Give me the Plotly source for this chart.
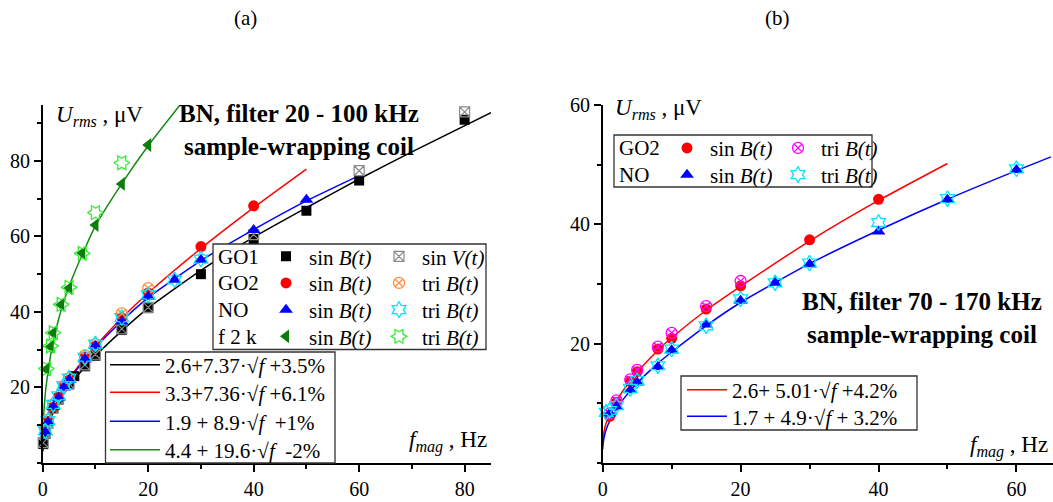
import plotly.graph_objects as go

W, H = 1053, 502
SERIF = "Liberation Serif, Times New Roman, Times, serif"

# ---------------- panel (a): BN, filter 20 - 100 kHz ----------------
# GO1, sinusoidal B(t) and sinusoidal V(t)
f_go1_sin = [0.1, 0.5, 1, 2, 3, 5, 6, 8, 10, 15, 20, 30, 40, 50, 60, 80]
u_go1_sin = [5.0, 7.7, 10.5, 14.5, 16.8, 20.8, 23.0, 25.6, 28.4, 35.2, 41.0, 50.0, 59.3, 66.8, 74.8, 90.9]
f_go1_sinv = [0.1, 0.5, 1, 2, 3, 5, 8, 10, 15, 20, 40, 60, 80]
u_go1_sinv = [5.4, 8.0, 10.5, 14.5, 17.0, 21.0, 26.0, 28.8, 35.5, 41.2, 60.5, 77.4, 93.0]
# GO2, sinusoidal and triangular B(t)
f_go2a_sin = [0.5, 1, 2, 3, 4, 5, 8, 10, 15, 20, 30, 40]
u_go2a_sin = [9.0, 11.0, 14.8, 17.5, 20.5, 22.0, 28.0, 31.0, 38.5, 45.0, 57.3, 68.1]
f_go2a_tri = [0.5, 1, 2, 4, 5, 8, 10, 15, 20]
u_go2a_tri = [9.5, 11.5, 15.5, 20.5, 22.5, 28.5, 31.5, 39.6, 46.3]
# NO, sinusoidal and triangular B(t)
f_noa_sin = [0.5, 1, 2, 3, 4, 5, 8, 10, 15, 20, 25, 30, 40, 50]
u_noa_sin = [8.2, 10.8, 14.8, 17.2, 20.0, 22.0, 27.5, 31.0, 37.5, 44.0, 48.5, 53.8, 61.7, 69.7]
f_noa_tri = [0.5, 1, 2, 3, 4, 5, 8, 10, 15, 20, 25, 30]
u_noa_tri = [8.5, 11.2, 15.5, 17.8, 20.5, 22.5, 28.0, 31.5, 38.5, 44.5, 48.5, 54.0]
# f 2 k, sinusoidal and triangular B(t)
f_f2k_sin = [0.7, 1.5, 2, 3.5, 5, 7.5, 10, 15, 20]
u_f2k_sin = [24.8, 30.8, 34.4, 41.9, 46.3, 55.6, 63.0, 73.9, 84.2]
f_f2k_tri = [0.7, 1.5, 2, 3.5, 5, 7.5, 10, 15]
u_f2k_tri = [25.0, 31.0, 34.5, 42.0, 46.5, 55.5, 66.3, 79.5]

# fitted curves, panel (a)
f_fit_go1 = [0, 0.1, 0.25, 0.5, 1, 2, 3, 5, 8, 10, 15, 20, 30, 40, 50, 60, 70, 85]
u_fit_go1 = [3.2, 5.0, 6.3, 7.8, 10.0, 13.3, 16.0, 20.3, 25.4, 28.4, 35.0, 41.0, 51.0, 59.8, 67.6, 75.2, 82.4, 92.8]
f_fit_go2a = [0, 0.1, 0.25, 0.5, 1, 2, 3, 5, 8, 10, 15, 20, 30, 40, 50]
u_fit_go2a = [4.0, 6.0, 7.3, 8.9, 11.2, 14.8, 17.6, 22.2, 27.8, 31.0, 38.4, 45.0, 56.8, 67.6, 77.8]
f_fit_noa = [0, 0.1, 0.25, 0.5, 1, 2, 3, 5, 8, 10, 15, 20, 25, 30, 40, 50, 60]
u_fit_noa = [3.0, 5.0, 6.4, 8.1, 10.7, 14.4, 17.3, 22.0, 27.4, 30.6, 37.6, 43.8, 48.8, 53.6, 61.8, 69.4, 76.1]
f_fit_f2k = [0, 0.1, 0.25, 0.5, 1, 1.5, 2, 3, 4, 5, 7.5, 10, 15, 20, 27]
u_fit_f2k = [5.0, 10.5, 14.0, 18.5, 24.0, 28.5, 32.0, 38.0, 42.8, 46.8, 55.2, 62.8, 74.0, 84.0, 96.5]

fit_labels_a = [
    "2.6+7.37·√<i>f</i> +3.5%",
    "3.3+7.36·√<i>f</i> +6.1%",
    "1.9 + 8.9·√<i>f</i>  +1%",
    "4.4 + 19.6·√<i>f</i>  -2%",
]

# ---------------- panel (b): BN, filter 70 - 170 kHz ----------------
f_go2b_sin = [1, 2, 4, 5, 8, 10, 15, 20, 30, 40]
u_go2b_sin = [7.8, 10.2, 13.7, 15.3, 19.1, 20.9, 25.8, 29.7, 37.4, 44.2]
f_go2b_tri = [1, 2, 4, 5, 8, 10, 15, 20]
u_go2b_tri = [8.3, 10.5, 14.0, 15.6, 19.5, 21.8, 26.3, 30.5]
f_nob_sin = [1, 2, 4, 5, 8, 10, 15, 20, 25, 30, 40, 50, 60]
u_nob_sin = [8.3, 9.4, 12.2, 13.5, 16.1, 18.9, 23.2, 27.2, 30.2, 33.3, 38.8, 44.1, 49.1]
f_nob_tri = [0.5, 1, 2, 4, 5, 8, 10, 15, 20, 25, 30, 40, 50, 60]
u_nob_tri = [8.5, 8.8, 9.6, 12.5, 13.8, 16.3, 19.1, 23.0, 27.5, 30.2, 33.5, 40.3, 44.3, 49.3]

f_fit_go2b = [0, 0.1, 0.25, 0.5, 1, 2, 3, 5, 8, 10, 15, 20, 30, 40, 50]
u_fit_go2b = [3.2, 4.6, 5.6, 6.7, 8.2, 10.4, 12.2, 15.2, 18.9, 21.0, 25.6, 29.6, 37.2, 44.0, 50.2]
f_fit_nob = [0, 0.1, 0.25, 0.5, 1, 2, 3, 5, 8, 10, 15, 20, 30, 40, 50, 60, 65]
u_fit_nob = [2.3, 3.6, 4.5, 5.6, 7.0, 9.0, 10.7, 13.4, 16.7, 18.6, 23.0, 26.9, 33.4, 39.0, 44.2, 49.0, 51.3]

fit_labels_b = [
    "2.6+ 5.01·√<i>f</i> +4.2%",
    "1.7 + 4.9·√<i>f</i> + 3.2%",
]

SIN_B = "sin <i>B(t)</i>"
SIN_V = "sin <i>V(t)</i>"
TRI_B = "tri <i>B(t)</i>"


def px(x):
    return x / W


def py(y):
    return 1 - y / H


fig = go.Figure()


def fit(f, u, color, xa, ya, name, legend):
    fig.add_trace(go.Scatter(
        x=f, y=u, mode="lines", name=name, legend=legend,
        line=dict(color=color, width=1.5, shape="spline", smoothing=0.6),
        xaxis=xa, yaxis=ya, hoverinfo="skip"))


def pts(f, u, name, legend, xa, ya, **marker):
    fig.add_trace(go.Scatter(
        x=f, y=u, mode="markers", name=name, legend=legend,
        marker=marker, xaxis=xa, yaxis=ya, cliponaxis=False))


# fitted lines (drawn beneath the measured points)
fit(f_fit_go1, u_fit_go1, "black", "x", "y", fit_labels_a[0], "legend5")
fit(f_fit_go2a, u_fit_go2a, "#ff0000", "x", "y", fit_labels_a[1], "legend6")
fit(f_fit_noa, u_fit_noa, "#0000ff", "x", "y", fit_labels_a[2], "legend7")
fit(f_fit_f2k, u_fit_f2k, "#138a13", "x", "y", fit_labels_a[3], "legend8")
fit(f_fit_go2b, u_fit_go2b, "#ff0000", "x2", "y2", fit_labels_b[0], "legend11")
fit(f_fit_nob, u_fit_nob, "#0000ff", "x2", "y2", fit_labels_b[1], "legend12")

# measured points, panel (a)
pts(f_go1_sin, u_go1_sin, SIN_B, "legend", "x", "y", symbol="square", size=10, color="black")
pts(f_go1_sinv, u_go1_sinv, SIN_V, "legend", "x", "y", symbol="square-x-open", size=10,
    color="#8a8a8a", line=dict(width=1.2, color="#8a8a8a"))
pts(f_go2a_sin, u_go2a_sin, SIN_B, "legend2", "x", "y", symbol="circle", size=11, color="#ff0000")
pts(f_go2a_tri, u_go2a_tri, TRI_B, "legend2", "x", "y", symbol="circle-x-open", size=11,
    color="#ff8c3a", line=dict(width=1.3, color="#ff8c3a"))
pts(f_noa_sin, u_noa_sin, SIN_B, "legend3", "x", "y", symbol="triangle-up", size=12, color="#0000ff")
pts(f_noa_tri, u_noa_tri, TRI_B, "legend3", "x", "y", symbol="hexagram-open", size=12,
    color="#00e5ff", line=dict(width=1.3, color="#00e5ff"))
pts(f_f2k_sin, u_f2k_sin, SIN_B, "legend4", "x", "y", symbol="triangle-left", size=12, color="#0b7d0b")
pts(f_f2k_tri, u_f2k_tri, TRI_B, "legend4", "x", "y", symbol="hexagram-open", angle=90, size=12,
    color="#33ee33", line=dict(width=1.3, color="#33ee33"))

# measured points, panel (b)
pts(f_go2b_sin, u_go2b_sin, SIN_B, "legend9", "x2", "y2", symbol="circle", size=11, color="#ff0000")
pts(f_go2b_tri, u_go2b_tri, TRI_B, "legend9", "x2", "y2", symbol="circle-x-open", size=11,
    color="#ff00ff", line=dict(width=1.3, color="#ff00ff"))
pts(f_nob_sin, u_nob_sin, SIN_B, "legend10", "x2", "y2", symbol="triangle-up", size=12, color="#0000ff")
pts(f_nob_tri, u_nob_tri, TRI_B, "legend10", "x2", "y2", symbol="hexagram-open", size=12,
    color="#00e5ff", line=dict(width=1.3, color="#00e5ff"))

LEG_FONT = dict(family=SERIF, size=21, color="black")


def row_legend(x_px, y_px, entrywidth=None, itemwidth=30, orientation="h"):
    d = dict(x=px(x_px), y=py(y_px), xanchor="left", yanchor="middle",
             orientation=orientation, bgcolor="rgba(0,0,0,0)", borderwidth=0,
             font=LEG_FONT, itemwidth=itemwidth, itemclick=False, itemdoubleclick=False)
    if entrywidth:
        d["entrywidth"] = entrywidth
        d["entrywidthmode"] = "pixels"
    return d


rows_a = [256.7, 283.3, 310.0, 336.7]
rows_fit_a = [365.0, 392.7, 421.7, 450.0]
rows_b = [148.3, 175.0]
rows_fit_b = [390.0, 416.7]

legends = {}
for key, y in zip(["legend", "legend2", "legend3", "legend4"], rows_a):
    legends[key] = row_legend(263, y, entrywidth=62, itemwidth=36)
for key, y in zip(["legend5", "legend6", "legend7", "legend8"], rows_fit_a):
    legends[key] = row_legend(105, y, itemwidth=50, orientation="v")
for key, y in zip(["legend9", "legend10"], rows_b):
    legends[key] = row_legend(664, y, entrywidth=60, itemwidth=36)
for key, y in zip(["legend11", "legend12"], rows_fit_b):
    legends[key] = row_legend(682, y, itemwidth=40, orientation="v")

axis_common = dict(showline=True, linewidth=1.5, linecolor="black", showgrid=False,
                   zeroline=False, ticks="outside", ticklen=7, tickwidth=1.5,
                   tickcolor="black", tickfont=dict(family=SERIF, size=20, color="black"),
                   fixedrange=True, automargin=False)

yd = [py(463), py(105)]

fig.update_layout(
    template="none",
    width=W, height=H, margin=dict(l=0, r=0, t=0, b=0, autoexpand=False),
    paper_bgcolor="white", plot_bgcolor="white", showlegend=True,
    font=dict(family=SERIF, color="black"),
    xaxis=dict(domain=[px(42.7), px(491)], range=[0, 85], anchor="y",
               tickvals=[0, 20, 40, 60, 80],
               minor=dict(tickvals=[10, 30, 50, 70], ticks="outside", ticklen=4,
                          tickwidth=1.5, tickcolor="black"), **axis_common),
    yaxis=dict(domain=yd, range=[0, 94.8], anchor="x",
               tickvals=[20, 40, 60, 80],
               minor=dict(tickvals=[0, 10, 30, 50, 70, 90], ticks="outside", ticklen=4,
                          tickwidth=1.5, tickcolor="black"), **axis_common),
    xaxis2=dict(domain=[px(602.7), 1.0], range=[0, 65.3], anchor="y2",
                tickvals=[0, 20, 40, 60],
                minor=dict(tickvals=[10, 30, 50], ticks="outside", ticklen=4,
                           tickwidth=1.5, tickcolor="black"), **axis_common),
    yaxis2=dict(domain=yd, range=[0, 60], anchor="x2",
                tickvals=[20, 40, 60],
                minor=dict(tickvals=[0, 10, 30, 50], ticks="outside", ticklen=4,
                           tickwidth=1.5, tickcolor="black"), **axis_common),
    **legends,
)

# legend frames (white fill hides the curves underneath)
for x0, x1, y0, y1 in [(213, 486, 244, 349.5), (105.5, 335, 352, 463),
                       (614, 872, 135, 187), (681, 917, 376, 430)]:
    fig.add_shape(type="rect", xref="paper", yref="paper",
                  x0=px(x0), x1=px(x1), y0=py(y1), y1=py(y0),
                  line=dict(color="#333333", width=1.3), fillcolor="white", layer="above")


def text(x, y, s, size=21, xanchor="left", yanchor="middle", align="left"):
    fig.add_annotation(x=px(x), y=py(y), xref="paper", yref="paper", text=s,
                       showarrow=False, xanchor=xanchor, yanchor=yanchor, align=align,
                       font=dict(family=SERIF, size=size, color="black"))


# row labels of the symbol tables
for lab, y in zip(["GO1", "GO2", "NO", "f 2 k"], rows_a):
    text(216, y, lab)
for lab, y in zip(["GO2", "NO"], rows_b):
    text(617, y, lab)

# panel titles
text(245, 18, "(a)", size=21, xanchor="center")
text(777, 18, "(b)", size=21, xanchor="center")

# axis titles
U_LABEL = "<i>U</i><sub><i>rms</i></sub> , μV"
F_LABEL = "<i>f</i><sub><i>mag</i></sub> , Hz"
text(54, 116, U_LABEL, size=23)
text(613, 109, U_LABEL, size=23)
text(489, 441, F_LABEL, size=23, xanchor="right")
text(1050, 446, F_LABEL, size=23, xanchor="right")

# filter / coil descriptions
text(299, 130, "<b>BN, filter 20 - 100 kHz<br>sample-wrapping coil</b>", size=25,
     xanchor="center", align="center")
text(922, 318, "<b>BN, filter 70 - 170 kHz<br>sample-wrapping coil</b>", size=25,
     xanchor="center", align="center")

fig.write_html("out.html")
